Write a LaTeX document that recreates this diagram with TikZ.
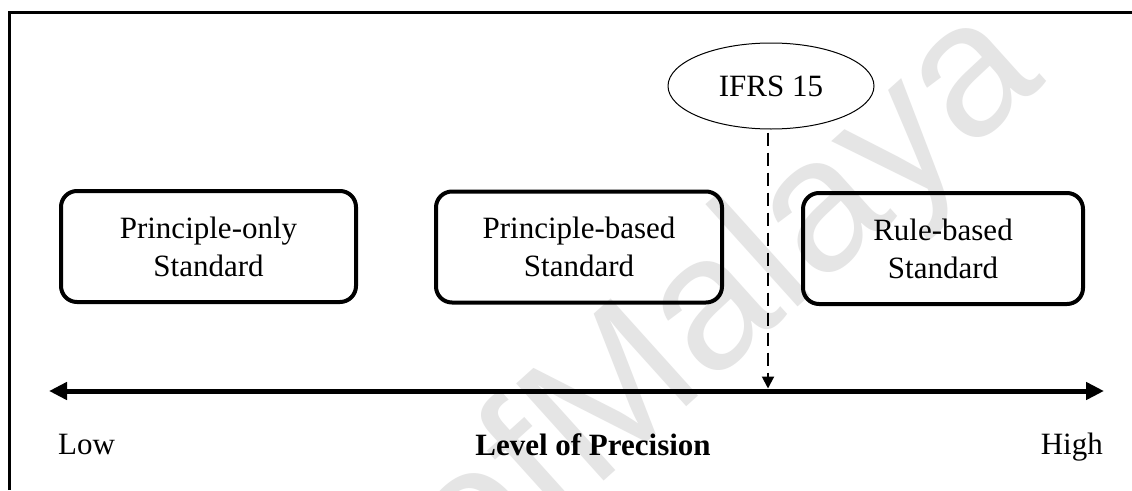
\documentclass[tikz,border=0pt]{standalone}
\usepackage{fontspec}
\setmainfont{Liberation Serif}
\newfontfamily\wmfont{Liberation Sans}
\usetikzlibrary{arrows.meta,shapes.geometric}
\tikzset{
  stdbox/.style={draw=black,line width=4pt,rounded corners=16pt,minimum width=294pt,minimum height=111pt,align=center,inner sep=0pt,font=\fontsize{31}{38}\selectfont},
  lbl/.style={inner sep=0pt,font=\fontsize{31}{38}\selectfont},
  axisline/.style={line width=5pt,{Triangle[length=18pt,width=17pt]}-{Triangle[length=18pt,width=17pt]}},
  dashlink/.style={line width=2pt,dash pattern=on 13pt off 7pt,-{Triangle[length=12pt,width=12pt]}},
  wm/.style={text=black!10,inner sep=0pt,font=\wmfont\fontsize{190}{190}\selectfont}
}
\begin{document}
\begin{tikzpicture}[x=1pt,y=-1pt]
\useasboundingbox (0,0) rectangle (1132,490);
\fill[white] (0,0) rectangle (1132,490);
% watermark
\begin{scope}
\clip (0,0) rectangle (1132,490);
\node[wm,rotate=42,anchor=base west] (wmark) at (592,492) {Malaya};
\node[wm,rotate=42,anchor=base east] (wmark2) at (wmark.base west) {University of\ };
\end{scope}
% frame
\draw[line width=2.4pt] (9.5,490) -- (9.5,12.3) -- (1132,12.3);
% boxes
\node[stdbox,minimum width=295pt] (po) at (208.5,246.5) {Principle-only\\Standard};
\node[stdbox,minimum width=286pt] (pb) at (579,247) {Principle-based\\Standard};
\node[stdbox,minimum width=280pt] (rb) at (943,248.5) {Rule-based\\Standard};
% ellipse
\node[ellipse,draw,line width=1pt,minimum width=206pt,minimum height=86pt,inner sep=0pt,font=\fontsize{31}{38}\selectfont] (ifrs) at (771,86) {IFRS 15};
% axis
\coordinate (axL) at (49,391);
\coordinate (axR) at (1104,391);
\draw[axisline] (axL) -- (axR);
\coordinate (hit) at (768,388.5);
\draw[dashlink] ([yshift=-3pt]ifrs.south -| hit) -- (hit);
% labels
\node[lbl,anchor=base west] (low) at (58,454) {Low};
\node[lbl,anchor=base east] (high) at (1103,454) {High};
\node[lbl,anchor=base,font=\fontsize{31}{38}\selectfont\bfseries] (lop) at (593,455) {Level of Precision};
\end{tikzpicture}
\end{document}
